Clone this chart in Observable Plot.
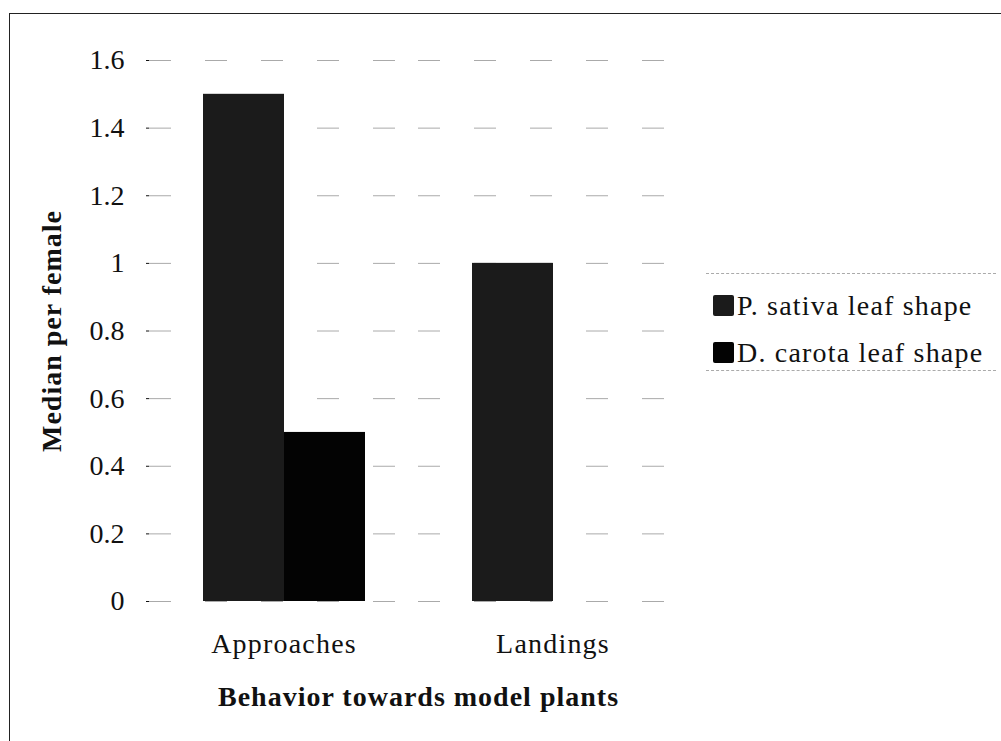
<!DOCTYPE html>
<html><head><meta charset="utf-8">
<script src="https://cdn.jsdelivr.net/npm/d3@7"></script>
<script src="https://cdn.jsdelivr.net/npm/@observablehq/plot@0.6"></script>
<style>
body{margin:0;background:#fff;}
#wrap{position:relative;width:1001px;height:741px;overflow:hidden;font-family:"Liberation Serif","Times New Roman",serif;}
#frame{position:absolute;left:9px;top:13px;width:1100px;height:800px;border-left:1.5px solid #222;border-top:1.5px solid #222;pointer-events:none;}
#chart{position:absolute;left:0;top:0;}
#legend{position:absolute;left:706px;top:273px;width:290px;height:98px;border-top:1px dashed #aaa;border-bottom:1px dashed #aaa;box-sizing:border-box;padding-top:8px;padding-left:7px;}
.item{display:flex;align-items:center;height:47px;font-size:28px;letter-spacing:1.2px;color:#111;white-space:nowrap;}
.sw{width:21px;height:21px;margin-right:3px;border-radius:2px;}
</style></head>
<body><div id="wrap"><div id="chart"></div><div id="legend"></div><div id="frame"></div></div>
<script>
const categories = ["Approaches", "Landings"];
const seriesNames = ["P. sativa leaf shape", "D. carota leaf shape"];
const pSativa = [1.5, 1.0];
const dCarota = [0.5, 0];
const yTicks = [0, 0.2, 0.4, 0.6, 0.8, 1, 1.2, 1.4, 1.6];
const seriesColors = ["#1b1b1b", "#030303"];

const data = [];
categories.forEach((c, i) => {
  data.push({category: c, series: seriesNames[0], value: pSativa[i]});
  data.push({category: c, series: seriesNames[1], value: dCarota[i]});
});

const plot = Plot.plot({
  width: 1001,
  height: 741,
  marginLeft: 149,
  marginRight: 314,
  marginTop: 60,
  marginBottom: 140,
  style: {fontFamily: "'Liberation Serif', 'Times New Roman', serif", fontSize: "28px", color: "#111", background: "transparent"},
  fx: {domain: categories, padding: 0, label: "Behavior towards model plants", labelArrow: "none", axis: "bottom", tickSize: 0, tickPadding: 32, labelAnchor: "center", labelOffset: 104},
  x: {domain: seriesNames, axis: null, paddingInner: 0, paddingOuter: 0.66},
  y: {domain: [0, 1.6], ticks: yTicks, tickFormat: d => String(+d.toFixed(1)), tickSize: 3, tickPadding: 22, label: "Median per female", labelArrow: "none", labelAnchor: "center", labelOffset: 108},
  color: {domain: seriesNames, range: seriesColors},
  marks: [
    Plot.ruleY(yTicks, {stroke: "#aaa", strokeWidth: 1, strokeDasharray: "22 34"}),
    Plot.barY(data, {fx: "category", x: "series", y: "value", fill: "series", inset: 0})
  ]
});
document.getElementById("chart").appendChild(plot);

const leg = document.getElementById("legend");
seriesNames.forEach((s, i) => {
  const d = document.createElement("div");
  d.className = "item";
  d.innerHTML = `<span class="sw" style="background:${seriesColors[i]}"></span><span>${s}</span>`;
  leg.appendChild(d);
});

// styling of axis titles and tick labels
plot.querySelectorAll('g[aria-label$="axis label"]').forEach(el => {
  el.style.fontWeight = "bold";
  el.style.letterSpacing = "1px";
});
plot.querySelectorAll('g[aria-label="fx-axis tick label"]').forEach(el => {
  el.style.letterSpacing = "1.2px";
});
plot.querySelectorAll('text').forEach(t => {
  const s = t.textContent.replace(/[↑→←↓]/g, "").trim();
  if (s !== t.textContent) t.textContent = s;
});
</script>
</body></html>
